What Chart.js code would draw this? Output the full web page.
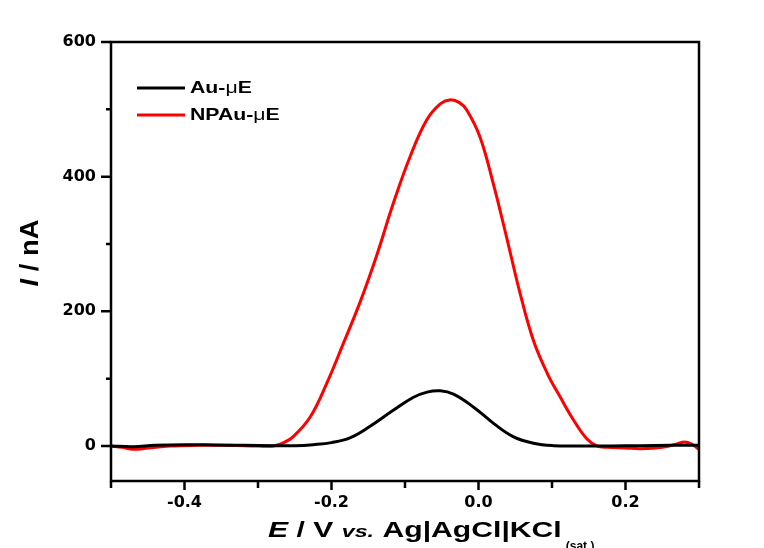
<!DOCTYPE html>
<html>
<head>
<meta charset="utf-8">
<script src="https://cdn.jsdelivr.net/npm/chart.js@4.4.0/dist/chart.umd.min.js"></script>
<style>
  html, body { margin: 0; padding: 0; background: #fff; }
</style>
</head>
<body>
<canvas id="chart" width="764" height="548"></canvas>
<script>
// Au microelectrode: potential (V) / current (nA)
const auE = [-0.50, -0.47, -0.44, -0.40, -0.36, -0.32, -0.28, -0.25, -0.225, -0.20, -0.175, -0.148, -0.116, -0.089, -0.070, -0.052, -0.034, -0.007, 0.020, 0.047, 0.075, 0.102, 0.14, 0.18, 0.22, 0.26, 0.30];
const auI = [0, -1, 1, 2, 1.5, 1, 0.5, 0.5, 2, 5, 12, 29, 53, 72, 80, 82, 77, 58, 34, 14, 4, 0.5, 0, 0, 0.5, 1, 1];

// nanoporous Au microelectrode
const npE = [-0.50, -0.485, -0.47, -0.45, -0.42, -0.38, -0.34, -0.30, -0.279, -0.265, -0.252, -0.229, -0.2065, -0.184, -0.161, -0.1385, -0.116, -0.093, -0.0705, -0.052, -0.039, -0.026, -0.016, 0.002, 0.020, 0.038, 0.0565, 0.0746, 0.0935, 0.111, 0.129, 0.147, 0.161, 0.175, 0.20, 0.22, 0.25, 0.27, 0.28, 0.29, 0.30];
const npI = [0, -2, -5, -3, 0, 1, 1, 0, 0, 5, 14, 43, 93, 152, 214, 283, 360, 430, 484, 508, 514, 510, 499, 459, 390, 311, 227, 157, 108, 73, 39, 11, 0, -2, -3, -4, -2, 3, 6, 3, -5];

const seriesNames = ['Au-μE', 'NPAu-μE'];
const seriesColors = ['#000000', '#ff0000'];

const xMajor = [-0.4, -0.2, 0.0, 0.2];
const xMinor = [-0.5, -0.3, -0.1, 0.1, 0.3];
const yMajor = [0, 200, 400, 600];
const yMinor = [100, 300, 500];

const FONT = '"Liberation Sans", Arial, sans-serif';

const toPoints = (xs, ys) => xs.map((x, i) => ({ x: x, y: ys[i] }));
const near = (list, v) => list.some(m => Math.abs(m - v) < 1e-6);

// draws a row of text pieces with a horizontal stretch, returns drawn width
function drawRuns(ctx, runs, x, y, sx) {
  ctx.save();
  ctx.translate(x, y);
  ctx.scale(sx, 1);
  let cx = 0;
  runs.forEach(r => {
    ctx.font = r.font;
    ctx.fillText(r.text, cx, r.dy || 0);
    cx += ctx.measureText(r.text).width;
  });
  ctx.restore();
  return cx * sx;
}

const framePlugin = {
  id: 'frame',
  afterDatasetsDraw(chart) {
    const { ctx, chartArea: a, scales } = chart;
    const xs = scales.x, ys = scales.y;
    ctx.save();
    ctx.strokeStyle = '#000';
    ctx.lineWidth = 2.5;
    ctx.strokeRect(a.left, a.top, a.right - a.left, a.bottom - a.top);

    // outward tick marks
    ctx.beginPath();
    xMajor.forEach(v => { const p = xs.getPixelForValue(v); ctx.moveTo(p, a.bottom); ctx.lineTo(p, a.bottom + 9); });
    xMinor.forEach(v => { const p = xs.getPixelForValue(v); ctx.moveTo(p, a.bottom); ctx.lineTo(p, a.bottom + 7); });
    yMajor.forEach(v => { const p = ys.getPixelForValue(v); ctx.moveTo(a.left, p); ctx.lineTo(a.left - 10, p); });
    yMinor.forEach(v => { const p = ys.getPixelForValue(v); ctx.moveTo(a.left, p); ctx.lineTo(a.left - 5, p); });
    ctx.stroke();

    // legend
    ctx.fillStyle = '#000';
    ctx.textBaseline = 'middle';
    chart.data.datasets.forEach((ds, i) => {
      const ly = 88 + i * 27;
      ctx.strokeStyle = ds.borderColor;
      ctx.lineWidth = 3;
      ctx.beginPath();
      ctx.moveTo(137, ly);
      ctx.lineTo(185, ly);
      ctx.stroke();
      const parts = ds.label.split('μ');
      drawRuns(ctx, [
        { text: parts[0], font: 'bold 17px ' + FONT },
        { text: 'μ', font: '17px ' + FONT },
        { text: parts[1], font: 'bold 17px ' + FONT }
      ], 190, ly, 1.25);
    });

    // x axis title
    ctx.textBaseline = 'alphabetic';
    const w = drawRuns(ctx, [
      { text: 'E', font: 'italic bold 22px ' + FONT },
      { text: ' / V ', font: 'bold 22px ' + FONT },
      { text: 'vs.', font: 'italic bold 17px ' + FONT },
      { text: ' Ag|AgCl|KCl', font: 'bold 22px ' + FONT }
    ], 268, 537, 1.37);
    drawRuns(ctx, [{ text: '(sat.)', font: 'bold 12px ' + FONT }], 268 + w + 4, 550, 1.0);

    // y axis title
    ctx.save();
    ctx.translate(31, 253);
    ctx.rotate(-Math.PI / 2);
    ctx.textBaseline = 'middle';
    ctx.font = 'bold 25px ' + FONT;
    const tw = ctx.measureText('I / nA').width * 1.1;
    drawRuns(ctx, [
      { text: 'I', font: 'italic bold 25px ' + FONT },
      { text: ' / nA', font: 'bold 25px ' + FONT }
    ], -tw / 2, 0, 1.1);
    ctx.restore();

    ctx.restore();
  }
};

new Chart(document.getElementById('chart'), {
  type: 'line',
  data: {
    datasets: [
      { label: seriesNames[0], data: toPoints(auE, auI), borderColor: seriesColors[0] },
      { label: seriesNames[1], data: toPoints(npE, npI), borderColor: seriesColors[1] }
    ].map(d => Object.assign(d, {
      borderWidth: 3,
      pointRadius: 0,
      fill: false,
      tension: 0.4
    }))
  },
  options: {
    responsive: false,
    animation: false,
    devicePixelRatio: 1,
    layout: { padding: { left: 0, right: 65, top: 42, bottom: 0 } },
    plugins: { legend: { display: false }, tooltip: { enabled: false } },
    scales: {
      x: {
        type: 'linear',
        min: -0.5,
        max: 0.3,
        grid: { display: false, drawTicks: false },
        border: { display: false },
        ticks: {
          stepSize: 0.1,
          padding: 12,
          autoSkip: false,
          maxRotation: 0,
          color: '#000',
          font: { family: '"DejaVu Sans"', size: 16, weight: 'bold' },
          callback: v => near(xMajor, v) ? (Math.abs(v) < 1e-9 ? 0 : v).toFixed(1) : ''
        },
        afterFit: s => { s.height = 67; }
      },
      y: {
        min: -52,
        max: 600,
        grid: { display: false, drawTicks: false },
        border: { display: false },
        ticks: {
          stepSize: 100,
          padding: 15,
          autoSkip: false,
          color: '#000',
          font: { family: '"DejaVu Sans"', size: 16, weight: 'bold' },
          callback: v => near(yMajor, v) ? String(v) : ''
        },
        afterFit: s => { s.width = 111; }
      }
    }
  },
  plugins: [framePlugin]
});
</script>
</body>
</html>
